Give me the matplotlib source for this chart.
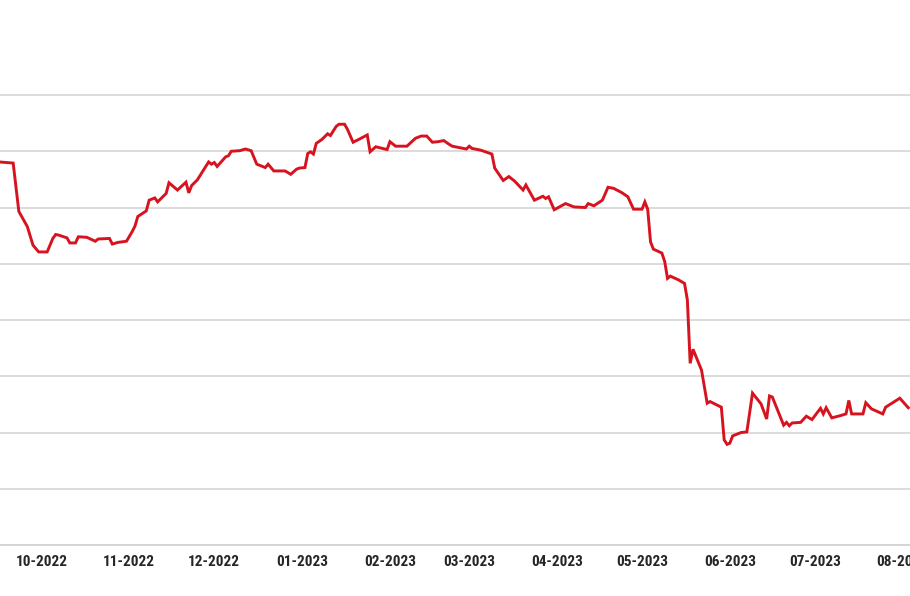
import matplotlib
matplotlib.use("Agg")
import matplotlib.pyplot as plt
import matplotlib.dates as mdates
import matplotlib.font_manager as fm
import pandas as pd
from datetime import datetime, timedelta

dates = [
    "2022-09-16", "2022-09-21", "2022-09-23", "2022-09-26", "2022-09-28", "2022-09-30",
    "2022-10-03", "2022-10-05", "2022-10-06", "2022-10-07", "2022-10-10", "2022-10-11",
    "2022-10-13", "2022-10-14", "2022-10-17", "2022-10-20", "2022-10-21", "2022-10-25",
    "2022-10-26", "2022-10-28", "2022-10-31",
    "2022-11-02", "2022-11-03", "2022-11-04", "2022-11-07", "2022-11-08", "2022-11-10",
    "2022-11-11", "2022-11-14", "2022-11-15", "2022-11-18", "2022-11-21", "2022-11-22",
    "2022-11-23", "2022-11-25", "2022-11-29", "2022-11-30",
    "2022-12-01", "2022-12-02", "2022-12-05", "2022-12-06", "2022-12-07", "2022-12-10",
    "2022-12-12", "2022-12-14", "2022-12-16", "2022-12-19", "2022-12-20", "2022-12-22",
    "2022-12-26", "2022-12-28", "2022-12-30", "2022-12-31",
    "2023-01-02", "2023-01-03", "2023-01-04", "2023-01-05", "2023-01-06", "2023-01-08",
    "2023-01-10", "2023-01-11", "2023-01-13", "2023-01-14", "2023-01-16", "2023-01-17",
    "2023-01-19", "2023-01-21", "2023-01-24", "2023-01-25", "2023-01-27", "2023-01-31",
    "2023-02-01", "2023-02-03", "2023-02-07", "2023-02-10", "2023-02-12", "2023-02-14",
    "2023-02-16", "2023-02-18", "2023-02-20", "2023-02-22", "2023-02-23", "2023-02-28",
    "2023-03-01", "2023-03-02", "2023-03-05", "2023-03-09", "2023-03-10", "2023-03-13",
    "2023-03-15", "2023-03-17", "2023-03-20", "2023-03-21", "2023-03-24", "2023-03-27",
    "2023-03-28", "2023-03-29", "2023-03-31",
    "2023-04-04", "2023-04-07", "2023-04-11", "2023-04-12", "2023-04-14", "2023-04-17",
    "2023-04-19", "2023-04-21", "2023-04-24", "2023-04-26", "2023-04-28",
    "2023-05-01", "2023-05-02", "2023-05-03", "2023-05-04", "2023-05-05", "2023-05-08",
    "2023-05-09", "2023-05-10", "2023-05-11", "2023-05-14", "2023-05-16", "2023-05-17",
    "2023-05-18", "2023-05-19", "2023-05-22", "2023-05-24", "2023-05-25", "2023-05-29",
    "2023-05-30", "2023-05-31",
    "2023-06-01", "2023-06-02", "2023-06-05", "2023-06-07", "2023-06-09", "2023-06-12",
    "2023-06-14", "2023-06-15", "2023-06-16", "2023-06-20", "2023-06-21", "2023-06-22",
    "2023-06-23", "2023-06-26", "2023-06-28", "2023-06-30",
    "2023-07-03", "2023-07-04", "2023-07-05", "2023-07-07", "2023-07-10", "2023-07-12",
    "2023-07-13", "2023-07-14", "2023-07-18", "2023-07-19", "2023-07-21", "2023-07-25",
    "2023-07-26", "2023-07-31", "2023-08-03",
]

values = [
    6.81, 6.79, 5.93, 5.66, 5.33, 5.21,
    5.21, 5.45, 5.52, 5.51, 5.46, 5.37,
    5.37, 5.48, 5.47, 5.40, 5.44, 5.45,
    5.35, 5.38, 5.40,
    5.57, 5.67, 5.84, 5.94, 6.13, 6.17,
    6.10, 6.25, 6.44, 6.31, 6.45, 6.26,
    6.39, 6.49, 6.81, 6.77,
    6.80, 6.73, 6.90, 6.92, 7.00, 7.01,
    7.04, 7.01, 6.77, 6.71, 6.77, 6.65,
    6.65, 6.59, 6.68, 6.70,
    6.71, 6.96, 6.99, 6.95, 7.14, 7.21,
    7.31, 7.28, 7.44, 7.48, 7.48, 7.39,
    7.16, 7.21, 7.29, 6.99, 7.08, 7.03,
    7.17, 7.09, 7.09, 7.23, 7.27, 7.27,
    7.16, 7.17, 7.19, 7.12, 7.09, 7.04,
    7.09, 7.05, 7.02, 6.95, 6.70, 6.48,
    6.55, 6.47, 6.31, 6.40, 6.13, 6.20,
    6.16, 6.19, 5.96,
    6.07, 6.01, 6.00, 6.07, 6.03, 6.13,
    6.36, 6.34, 6.26, 6.19, 5.97,
    5.97, 6.10, 5.97, 5.39, 5.26, 5.19,
    5.04, 4.74, 4.78, 4.71, 4.65, 4.36,
    3.23, 3.48, 3.11, 2.52, 2.55, 2.45,
    1.87, 1.79,
    1.81, 1.94, 2.00, 2.01, 2.70, 2.51,
    2.24, 2.65, 2.63, 2.13, 2.18, 2.12,
    2.17, 2.18, 2.29, 2.23,
    2.43, 2.33, 2.44, 2.26, 2.30, 2.33,
    2.57, 2.33, 2.33, 2.53, 2.42, 2.33,
    2.45, 2.61, 2.44,
]

grid_levels = [1, 2, 3, 4, 5, 6, 7, 8]
month_ticks = ["2022-10-01", "2022-11-01", "2022-12-01", "2023-01-01", "2023-02-01",
               "2023-03-01", "2023-04-01", "2023-05-01", "2023-06-01", "2023-07-01",
               "2023-08-01"]

x = pd.to_datetime(dates)

installed = {f.name for f in fm.fontManager.ttflist}
label_family = [f for f in ["Roboto Condensed", "Roboto", "DejaVu Sans"] if f in installed]

fig = plt.figure(figsize=(9.10, 5.96), dpi=100)
ax = fig.add_axes([0.0, 51 / 596, 1.0, 1 - 51 / 596])

ax.plot(x, values, color="#d6131f", linewidth=2.1, solid_joinstyle="miter",
        zorder=3, clip_on=True)

origin = datetime(2022, 10, 1)
ax.set_xlim(origin - timedelta(days=14.65), origin + timedelta(days=306.6))
ax.set_ylim(0, 545 / 56.25)

ax.set_yticks(grid_levels)
ax.yaxis.grid(True, color="#dcdcdc", linewidth=1.4)
ax.tick_params(axis="y", left=False, labelleft=False)

ax.set_xticks(pd.to_datetime(month_ticks))
ax.xaxis.set_major_formatter(mdates.DateFormatter("%m-%Y"))
ax.tick_params(axis="x", length=0, pad=7, labelsize=11, labelcolor="#262626")
for lbl in ax.get_xticklabels():
    lbl.set_fontfamily(label_family)
    lbl.set_fontweight("bold")
    lbl.set_fontstretch("condensed")

for s in ["top", "left", "right"]:
    ax.spines[s].set_visible(False)
ax.spines["bottom"].set_color("#d4d4d4")
ax.spines["bottom"].set_linewidth(1.4)
ax.set_axisbelow(True)

fig.savefig("out.png", dpi=100, facecolor="white")
